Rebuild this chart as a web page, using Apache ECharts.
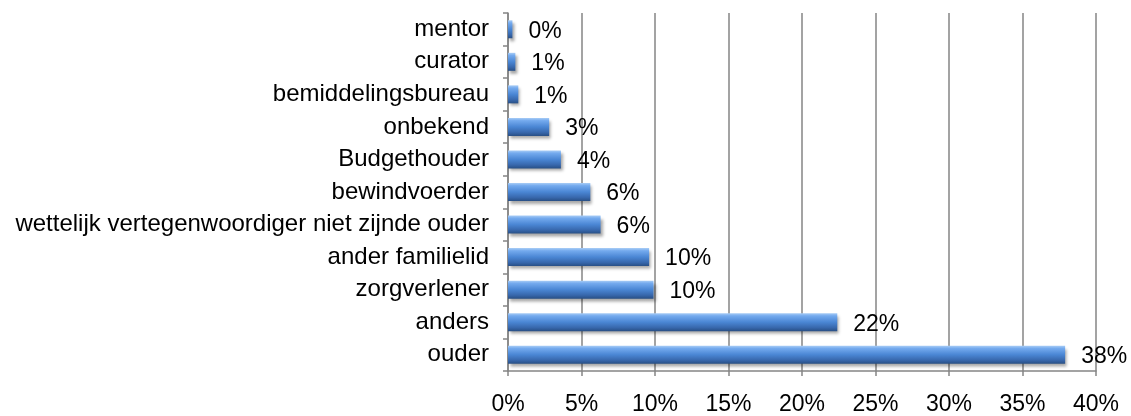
<!DOCTYPE html>
<html>
<head>
<meta charset="utf-8">
<script src="https://cdn.jsdelivr.net/npm/echarts@6/dist/echarts.min.js"></script>
<style>
html,body{margin:0;padding:0;background:#fff;}
#c{width:1131px;height:416px;}
</style>
</head>
<body>
<div id="c"></div>
<script>
const categories = ['ouder','anders','zorgverlener','ander familielid','wettelijk vertegenwoordiger niet zijnde ouder','bewindvoerder','Budgethouder','onbekend','bemiddelingsbureau','curator','mentor'];
const values = [37.9, 22.4, 9.9, 9.6, 6.3, 5.6, 3.6, 2.8, 0.7, 0.5, 0.3];
const valueLabels = ['38%','22%','10%','10%','6%','6%','4%','3%','1%','1%','0%'];
const xMin = 0, xMax = 40, xStep = 5;

const chart = echarts.init(document.getElementById('c'), null, {renderer:'canvas'});
const font = '"Liberation Sans", Arial, sans-serif';
const grey = '#858585';
chart.setOption({
  animation:false,
  backgroundColor:'#ffffff',
  grid:{left:508, right:35, top:13, bottom:39, containLabel:false},
  xAxis:{
    type:'value', min:xMin, max:xMax, interval:xStep,
    axisLine:{show:true, lineStyle:{color:grey, width:1.5}},
    axisTick:{show:true, length:5, lineStyle:{color:grey, width:1.5}},
    splitLine:{show:true, lineStyle:{color:grey, width:1.5}},
    axisLabel:{formatter:'{value}%', color:'#000', fontFamily:font, fontSize:23, margin:22}
  },
  yAxis:{
    type:'category', data:categories,
    axisLine:{show:true, lineStyle:{color:grey, width:1.5}},
    axisTick:{show:true, length:5, alignWithLabel:false, lineStyle:{color:grey, width:1.5}},
    axisLabel:{color:'#000', fontFamily:font, fontSize:24, margin:19, interval:0, padding:[6,0,0,0]}
  },
  series:[{
    type:'bar',
    data:values,
    barWidth:18,
    itemStyle:{
      color:new echarts.graphic.LinearGradient(0,0,0,1,[
        {offset:0, color:'#a9cdf6'},
        {offset:0.15, color:'#74aaee'},
        {offset:0.5, color:'#4a86d4'},
        {offset:0.8, color:'#3868ad'},
        {offset:1, color:'#284f85'}
      ]),
      shadowBlur:3, shadowColor:'rgba(0,0,0,0.35)', shadowOffsetX:2, shadowOffsetY:3
    },
    label:{
      show:true, position:'right', distance:16, offset:[0,2],
      color:'#000', fontFamily:font, fontSize:23,
      formatter:(p)=>valueLabels[p.dataIndex]
    }
  }]
});
</script>
</body>
</html>
